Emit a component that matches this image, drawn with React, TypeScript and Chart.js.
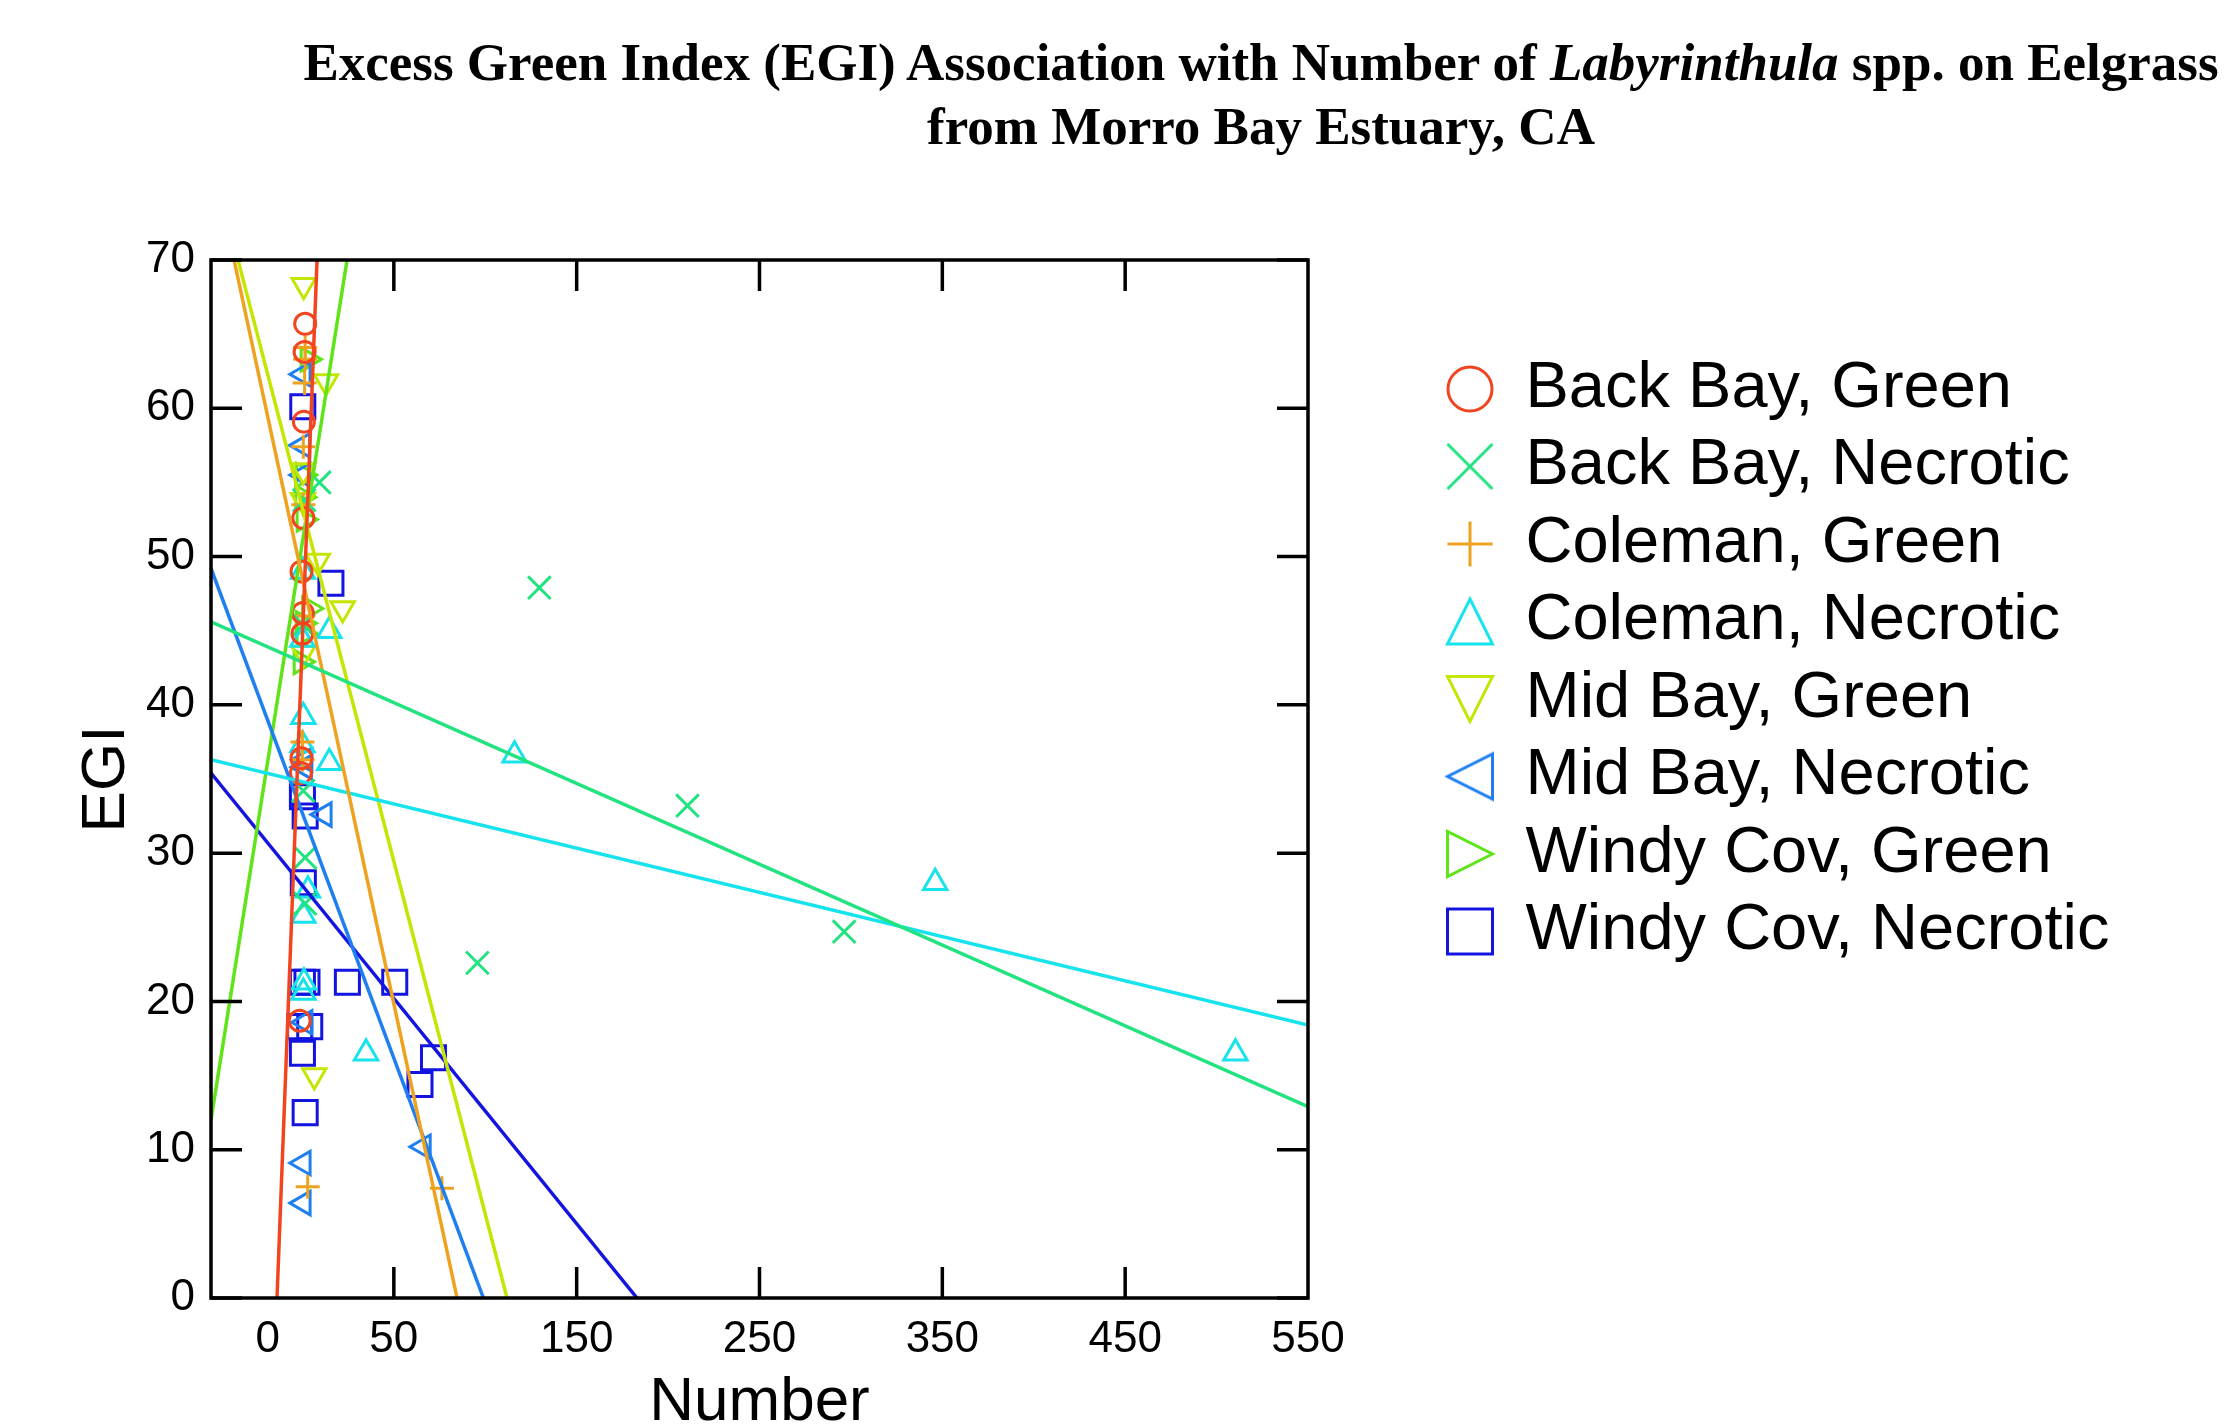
import React, { useEffect, useRef } from 'react';
import { Chart, registerables } from 'chart.js';

Chart.register(...registerables);

// ---------- data ----------
const seriesNames = [
  'Back Bay, Green',
  'Back Bay, Necrotic',
  'Coleman, Green',
  'Coleman, Necrotic',
  'Mid Bay, Green',
  'Mid Bay, Necrotic',
  'Windy Cov, Green',
  'Windy Cov, Necrotic',
];

const backBayGreen = [
  { x: 1.5, y: 65.7 }, { x: 1.2, y: 63.8 }, { x: 0.8, y: 59.1 }, { x: 0.5, y: 52.6 },
  { x: -0.5, y: 49.0 }, { x: 0.2, y: 46.2 }, { x: 0, y: 44.8 }, { x: -0.5, y: 36.4 },
  { x: -0.8, y: 35.4 }, { x: -1.5, y: 18.7 },
];
const backBayNecrotic = [
  { x: 9.3, y: 55.0 }, { x: 1.0, y: 53.8 }, { x: 0.5, y: 45.4 }, { x: 0.5, y: 34.2 },
  { x: 1.5, y: 29.7 }, { x: 1.5, y: 26.6 }, { x: 95.7, y: 22.6 }, { x: 129.6, y: 47.9 },
  { x: 210.6, y: 33.2 }, { x: 296.3, y: 24.7 },
];
const colemanGreen = [
  { x: 1.5, y: 64.1 }, { x: 1.5, y: 63.3 }, { x: 1.2, y: 61.7 }, { x: 0.5, y: 57.4 },
  { x: 0.5, y: 53.5 }, { x: 0.5, y: 46.0 }, { x: 0, y: 37.5 }, { x: 0, y: 36.3 },
  { x: 2.9, y: 7.5 }, { x: 76.3, y: 7.4 },
];
const colemanNecrotic = [
  { x: 0.3, y: 49.0 }, { x: 14.7, y: 45.0 }, { x: 0, y: 44.4 }, { x: 0.5, y: 39.2 },
  { x: 0, y: 37.3 }, { x: 14.7, y: 36.1 }, { x: 3, y: 27.5 }, { x: 0.5, y: 25.8 },
  { x: 0.8, y: 21.3 }, { x: 0.5, y: 20.6 }, { x: 34.8, y: 16.5 }, { x: 116.0, y: 36.6 },
  { x: 346.1, y: 28.0 }, { x: 510.3, y: 16.5 },
];
const midBayGreen = [
  { x: 0.7, y: 68.3 }, { x: 12.9, y: 61.8 }, { x: 0.5, y: 55.8 }, { x: 0.3, y: 53.8 },
  { x: 8.4, y: 49.7 }, { x: 22.0, y: 46.5 }, { x: 0.5, y: 43.5 }, { x: 6.5, y: 15.0 },
];
const midBayNecrotic = [
  { x: 0.5, y: 62.3 }, { x: 0.3, y: 57.5 }, { x: 0.5, y: 55.5 }, { x: 1.5, y: 36.3 },
  { x: 1.2, y: 35.8 }, { x: 12.0, y: 32.6 }, { x: 1.5, y: 18.6 }, { x: 66.2, y: 10.2 },
  { x: 0.5, y: 9.1 }, { x: 0.5, y: 6.4 },
];
const windyCovGreen = [
  { x: 3.0, y: 63.3 }, { x: 0.5, y: 55.5 }, { x: 0, y: 54.0 }, { x: 0.8, y: 52.5 },
  { x: 3.8, y: 46.5 }, { x: 0.3, y: 45.5 }, { x: 0.8, y: 44.8 }, { x: -0.8, y: 42.9 },
];
const windyCovNecrotic = [
  { x: 0.2, y: 60.1 }, { x: 15.6, y: 48.2 }, { x: 0, y: 33.8 }, { x: 1.5, y: 32.5 },
  { x: 0.5, y: 28.0 }, { x: 0, y: 21.3 }, { x: 2.5, y: 21.3 }, { x: 24.6, y: 21.3 },
  { x: 50.5, y: 21.3 }, { x: -1.5, y: 18.3 }, { x: 4.0, y: 18.3 }, { x: 0, y: 16.5 },
  { x: 71.7, y: 16.2 }, { x: 64.3, y: 14.4 }, { x: 1.5, y: 12.5 },
];

// fitted regression lines (end points read where they meet the frame)
const backBayGreenFit = [{ x: -13.9, y: 0 }, { x: 8.0, y: 70 }];
const backBayNecroticFit = [{ x: -50, y: 45.6 }, { x: 550, y: 12.9 }];
const colemanGreenFit = [{ x: -37.4, y: 70 }, { x: 84.6, y: 0 }];
const colemanNecroticFit = [{ x: -50, y: 36.3 }, { x: 550, y: 18.4 }];
const midBayGreenFit = [{ x: -35.2, y: 70 }, { x: 111.9, y: 0 }];
const midBayNecroticFit = [{ x: -50, y: 49.2 }, { x: 99, y: 0 }];
const windyCovGreenFit = [{ x: -50, y: 12.0 }, { x: 24.4, y: 70 }];
const windyCovNecroticFit = [{ x: -50, y: 35.4 }, { x: 183, y: 0 }];

const seriesPoints = [
  backBayGreen, backBayNecrotic, colemanGreen, colemanNecrotic,
  midBayGreen, midBayNecrotic, windyCovGreen, windyCovNecrotic,
];
const seriesFits = [
  backBayGreenFit, backBayNecroticFit, colemanGreenFit, colemanNecroticFit,
  midBayGreenFit, midBayNecroticFit, windyCovGreenFit, windyCovNecroticFit,
];

const xTickPositions = [-19, 50, 150, 250, 350, 450, 550];
const xTickLabels = ['0', '50', '150', '250', '350', '450', '550'];
const xTickMarks = [50, 150, 250, 350, 450];
const yTickValues = [0, 10, 20, 30, 40, 50, 60, 70];

// ---------- styles ----------
const seriesColors = [
  '#f2441f', '#22e37f', '#eea21f', '#17e3ec',
  '#c5e504', '#1f7ff0', '#5fe41a', '#1414e0',
];
const markerStyles = ['circle', 'crossRot', 'cross', 'triangle', 'triangle', 'triangle', 'triangle', 'rect'];
const markerRotations = [0, 0, 0, 0, 180, -90, 90, 0];
const markerRadii = [10.5, 16, 12, 13.5, 13.5, 13.5, 13.5, 17];

const SANS = '"Liberation Sans", Arial, Helvetica, sans-serif';
const CANVAS_W = 2215;
const CANVAS_H = 1417;
const LEGEND_FONT = 65;
const LEGEND_PAD = 12.5;
const LEGEND_BOX = 46;

function makeLegendMarker(i: number): HTMLCanvasElement {
  const c = document.createElement('canvas');
  c.width = 52;
  c.height = 52;
  const g = c.getContext('2d')!;
  g.strokeStyle = seriesColors[i];
  g.lineWidth = 3;
  g.translate(26, 26);
  const h = 22.5;
  g.beginPath();
  const style = markerStyles[i];
  if (style === 'circle') {
    g.arc(0, 0, 22, 0, Math.PI * 2);
  } else if (style === 'crossRot') {
    g.moveTo(-h, -h); g.lineTo(h, h);
    g.moveTo(h, -h); g.lineTo(-h, h);
  } else if (style === 'cross') {
    g.moveTo(-h, 0); g.lineTo(h, 0);
    g.moveTo(0, -h); g.lineTo(0, h);
  } else if (style === 'rect') {
    g.rect(-h, -h, 2 * h, 2 * h);
  } else {
    g.rotate((markerRotations[i] * Math.PI) / 180);
    g.moveTo(0, -h); g.lineTo(h, h); g.lineTo(-h, h); g.closePath();
  }
  g.stroke();
  return c;
}

const framePlugin = {
  id: 'innerFrame',
  afterDatasetsDraw(chart: any) {
    const { ctx, chartArea } = chart;
    const { left, right, top, bottom } = chartArea;
    const xs = chart.scales.x;
    const ys = chart.scales.y;
    const tl = 31;
    ctx.save();
    ctx.strokeStyle = '#000';
    ctx.lineWidth = 3.5;
    ctx.strokeRect(left, top, right - left, bottom - top);
    ctx.beginPath();
    yTickValues.forEach((v) => {
      const py = ys.getPixelForValue(v);
      ctx.moveTo(left, py); ctx.lineTo(left + tl, py);
      ctx.moveTo(right, py); ctx.lineTo(right - tl, py);
    });
    xTickMarks.forEach((v) => {
      const px = xs.getPixelForValue(v);
      ctx.moveTo(px, bottom); ctx.lineTo(px, bottom - tl);
      ctx.moveTo(px, top); ctx.lineTo(px, top + tl);
    });
    ctx.stroke();
    ctx.restore();
  },
};

export default function App() {
  const ref = useRef<HTMLCanvasElement | null>(null);

  useEffect(() => {
    if (!ref.current) return;

    // legend width -> right padding so the plot frame lands where it should
    const m = document.createElement('canvas').getContext('2d')!;
    m.font = `${LEGEND_FONT}px ${SANS}`;
    const maxText = Math.max(...seriesNames.map((s) => m.measureText(s).width));
    // Chart.js vertical legend width = padding + box + font/2 + text + 10
    const legendW = LEGEND_PAD + LEGEND_BOX + LEGEND_FONT / 2 + maxText + 10;
    const legendLeft = 1426.5;
    const padRight = Math.max(0, CANVAS_W - legendLeft - legendW);

    const markers = seriesNames.map((_, i) => makeLegendMarker(i));

    const pointSets = seriesNames.map((name, i) => ({
      type: 'scatter' as const,
      label: name,
      data: seriesPoints[i],
      showLine: false,
      pointStyle: markerStyles[i],
      pointRotation: markerRotations[i],
      pointRadius: markerRadii[i],
      pointBorderWidth: 3,
      borderColor: seriesColors[i],
      backgroundColor: 'rgba(0,0,0,0)',
      order: 1,
    }));
    const lineSets = seriesNames.map((name, i) => ({
      type: 'scatter' as const,
      label: name + ' fit',
      data: seriesFits[i],
      showLine: true,
      pointRadius: 0,
      borderWidth: 3.5,
      borderColor: seriesColors[i],
      backgroundColor: seriesColors[i],
      fill: false,
      order: 0,
    }));

    const chart = new Chart(ref.current, {
      type: 'scatter',
      data: { datasets: [...pointSets, ...lineSets] as any },
      options: {
        responsive: false,
        animation: false,
        events: [],
        devicePixelRatio: 1,
        layout: { padding: { top: 252, left: 0, bottom: 0, right: padRight } },
        plugins: {
          tooltip: { enabled: false },
          title: { display: false },
          legend: {
            position: 'right',
            align: 'start',
            maxWidth: 1200,
            title: { display: true, text: ' ', font: { size: 10, lineHeight: 1 }, padding: { top: 74, bottom: 0 } },
            labels: {
              usePointStyle: true,
              boxWidth: LEGEND_BOX,
              boxHeight: LEGEND_BOX,
              padding: LEGEND_PAD,
              color: '#000',
              font: { family: SANS, size: LEGEND_FONT },
              generateLabels: () =>
                seriesNames.map((name, i) => ({
                  text: name,
                  pointStyle: markers[i],
                  rotation: 0,
                  fillStyle: 'rgba(0,0,0,0)',
                  strokeStyle: seriesColors[i],
                  lineWidth: 3,
                  hidden: false,
                  datasetIndex: i,
                  fontColor: '#000',
                })) as any,
            },
          },
        },
        scales: {
          x: {
            type: 'linear',
            position: 'bottom',
            min: -50,
            max: 550,
            afterBuildTicks: (scale: any) => {
              scale.ticks = xTickPositions.map((v) => ({ value: v }));
            },
            afterFit: (scale: any) => {
              scale.height = 127;
            },
            grid: { display: false, drawTicks: false },
            border: { display: false },
            ticks: {
              autoSkip: false,
              maxRotation: 0,
              padding: 15,
              color: '#000',
              font: { family: SANS, size: 44 },
              callback: (_v: any, idx: number) => xTickLabels[idx],
            },
            title: {
              display: true,
              text: 'Number',
              color: '#000',
              font: { family: SANS, size: 62, lineHeight: 0.7 },
              padding: { top: 0, bottom: 0 },
            },
          },
          y: {
            type: 'linear',
            position: 'left',
            min: 0,
            max: 70,
            afterBuildTicks: (scale: any) => {
              scale.ticks = yTickValues.map((v) => ({ value: v }));
            },
            afterFit: (scale: any) => {
              scale.width = 203;
            },
            grid: { display: false, drawTicks: false },
            border: { display: false },
            ticks: {
              padding: 16,
              color: '#000',
              font: { family: SANS, size: 44 },
            },
            title: {
              display: true,
              text: 'EGI',
              color: '#000',
              font: { family: SANS, size: 62 },
              padding: { top: 62, bottom: 0 },
            },
          },
          yRight: {
            type: 'linear',
            position: 'right',
            min: 0,
            max: 70,
            afterFit: (scale: any) => {
              scale.width = 126.5;
            },
            grid: { display: false, drawTicks: false },
            border: { display: false },
            ticks: { display: false },
          },
        },
      },
      plugins: [framePlugin],
    } as any);

    return () => chart.destroy();
  }, []);

  return (
    <div style={{ position: 'relative', width: CANVAS_W, height: CANVAS_H, overflow: 'hidden' }}>
      <canvas
        ref={ref}
        width={CANVAS_W}
        height={CANVAS_H}
        style={{ position: 'absolute', left: 0, top: 0, width: CANVAS_W, height: CANVAS_H, display: 'block' }}
      />
      <div
        style={{
          position: 'absolute',
          top: 22,
          left: 1253 - 962,
          width: 1924,
          textAlign: 'center',
          whiteSpace: 'nowrap',
          fontFamily: '"Liberation Serif", "Times New Roman", serif',
          fontWeight: 'bold',
          fontSize: 53,
          lineHeight: '64px',
          color: '#000',
        }}
      >
        <div>
          Excess Green Index (EGI) Association with Number of <i>Labyrinthula</i> spp. on Eelgrass
        </div>
        <div>from Morro Bay Estuary, CA</div>
      </div>
    </div>
  );
}
